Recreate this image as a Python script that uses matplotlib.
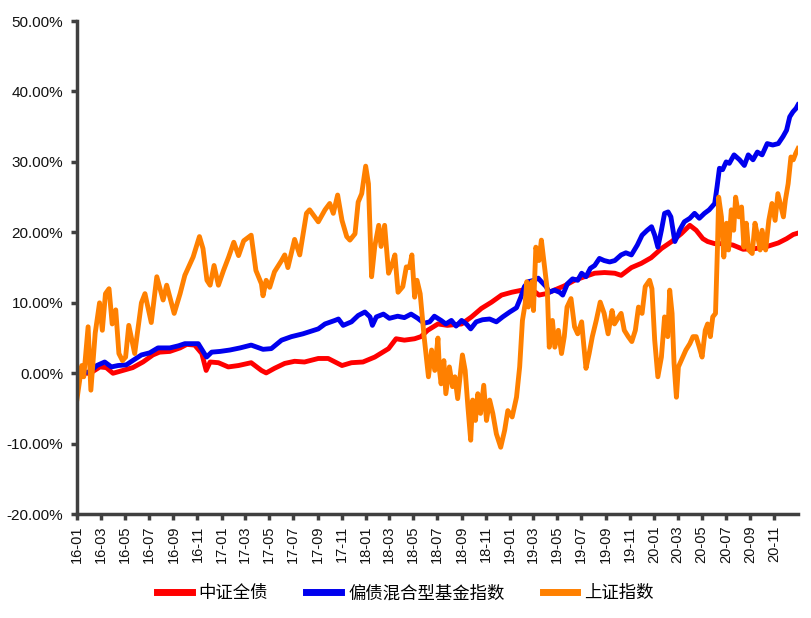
import matplotlib
matplotlib.use('Agg')
import matplotlib.pyplot as plt
import matplotlib.dates as mdates
import pandas as pd
from matplotlib.ticker import FuncFormatter, MultipleLocator

plt.rcParams['font.family'] = ['Liberation Sans', 'Noto Sans CJK SC', 'DejaVu Sans']

# === series names / colours ===
labels = ['中证全债', '偏债混合型基金指数', '上证指数']
colors = ['#ff0000', '#0000ee', '#ff8000']

# === cumulative return (%) ===
bond = [
    ('2016-01-01', 0.0), ('2016-02-03', 0.0), ('2016-02-28', 0.9), ('2016-03-15', 0.8),
    ('2016-04-01', 0.0), ('2016-04-26', 0.4), ('2016-05-21', 0.8), ('2016-06-16', 1.6),
    ('2016-07-11', 2.6), ('2016-07-28', 3.0), ('2016-08-23', 3.1), ('2016-09-18', 3.6),
    ('2016-10-05', 4.1), ('2016-10-25', 4.0), ('2016-11-12', 2.8), ('2016-11-23', 0.4),
    ('2016-12-03', 1.6), ('2016-12-24', 1.5), ('2017-01-18', 0.9), ('2017-02-13', 1.1),
    ('2017-03-17', 1.5), ('2017-04-12', 0.4), ('2017-04-24', 0.05), ('2017-05-15', 0.7),
    ('2017-06-10', 1.4), ('2017-07-05', 1.7), ('2017-07-30', 1.6), ('2017-09-03', 2.1),
    ('2017-09-28', 2.1), ('2017-11-02', 1.1), ('2017-11-26', 1.5), ('2017-12-25', 1.6),
    ('2018-01-24', 2.3), ('2018-02-28', 3.5), ('2018-03-19', 4.9), ('2018-04-09', 4.7),
    ('2018-05-05', 4.9), ('2018-05-21', 5.2), ('2018-06-07', 6.1), ('2018-07-03', 7.0),
    ('2018-07-27', 6.8), ('2018-09-01', 7.0), ('2018-09-26', 8.0), ('2018-10-21', 9.2),
    ('2018-11-16', 10.1), ('2018-12-11', 11.1), ('2019-01-06', 11.5), ('2019-02-01', 11.8),
    ('2019-02-26', 11.9), ('2019-03-16', 11.1), ('2019-04-03', 11.3), ('2019-05-02', 12.0),
    ('2019-05-19', 12.4), ('2019-06-14', 13.2), ('2019-07-09', 13.7), ('2019-08-04', 14.2),
    ('2019-08-29', 14.3), ('2019-09-24', 14.2), ('2019-10-10', 13.9), ('2019-11-05', 15.0),
    ('2019-11-30', 15.6), ('2019-12-25', 16.4), ('2020-01-20', 17.7), ('2020-02-15', 18.7),
    ('2020-03-10', 19.8), ('2020-04-01', 21.0), ('2020-04-17', 20.3), ('2020-05-04', 19.1),
    ('2020-05-16', 18.7), ('2020-06-03', 18.4), ('2020-06-28', 18.4), ('2020-07-19', 18.2),
    ('2020-08-14', 17.6), ('2020-09-13', 17.7), ('2020-10-08', 17.9), ('2020-11-11', 18.5),
    ('2020-12-02', 19.1), ('2020-12-19', 19.7), ('2020-12-31', 19.9),
]

hybrid = [
    ('2016-01-01', 0.0), ('2016-02-03', 0.2), ('2016-02-20', 1.1), ('2016-03-11', 1.6),
    ('2016-03-28', 0.9), ('2016-04-14', 1.1), ('2016-05-05', 1.2), ('2016-05-21', 1.8),
    ('2016-06-12', 2.6), ('2016-07-03', 2.9), ('2016-07-24', 3.6), ('2016-08-23', 3.6),
    ('2016-09-14', 3.9), ('2016-09-30', 4.2), ('2016-11-03', 4.2), ('2016-11-24', 2.3),
    ('2016-12-07', 3.0), ('2016-12-28', 3.1), ('2017-01-22', 3.3), ('2017-02-17', 3.6),
    ('2017-03-17', 4.0), ('2017-04-16', 3.4), ('2017-05-07', 3.5), ('2017-06-02', 4.7),
    ('2017-06-27', 5.2), ('2017-07-26', 5.6), ('2017-09-03', 6.3), ('2017-09-20', 7.0),
    ('2017-10-15', 7.5), ('2017-10-24', 7.7), ('2017-11-05', 6.8), ('2017-11-26', 7.3),
    ('2017-12-13', 8.2), ('2017-12-30', 8.7), ('2018-01-12', 8.0), ('2018-01-18', 6.8),
    ('2018-01-28', 8.0), ('2018-02-15', 8.4), ('2018-03-02', 7.8), ('2018-03-23', 8.1),
    ('2018-04-09', 7.9), ('2018-04-26', 8.4), ('2018-05-13', 7.8), ('2018-05-29', 7.1),
    ('2018-06-12', 7.3), ('2018-06-24', 8.1), ('2018-07-11', 7.5), ('2018-07-23', 7.0),
    ('2018-08-06', 7.5), ('2018-08-18', 6.7), ('2018-09-01', 7.5), ('2018-09-13', 7.0),
    ('2018-09-24', 6.3), ('2018-10-08', 7.3), ('2018-10-24', 7.6), ('2018-11-11', 7.7),
    ('2018-11-28', 7.3), ('2018-12-14', 8.0), ('2019-01-01', 8.7), ('2019-01-18', 9.3),
    ('2019-01-29', 10.8), ('2019-02-07', 12.3), ('2019-02-17', 13.0), ('2019-03-04', 13.2),
    ('2019-03-14', 13.5), ('2019-03-22', 13.0), ('2019-04-03', 12.3), ('2019-04-11', 11.5),
    ('2019-04-24', 11.8), ('2019-05-07', 11.5), ('2019-05-15', 11.1), ('2019-05-27', 12.7),
    ('2019-06-09', 13.4), ('2019-06-22', 13.2), ('2019-07-02', 14.2), ('2019-07-13', 13.7),
    ('2019-07-24', 14.9), ('2019-08-04', 15.3), ('2019-08-16', 16.3), ('2019-08-28', 16.0),
    ('2019-09-11', 15.8), ('2019-09-24', 16.0), ('2019-10-10', 16.8), ('2019-10-22', 17.1),
    ('2019-11-05', 16.8), ('2019-11-20', 18.2), ('2019-12-02', 19.6), ('2019-12-15', 20.3),
    ('2019-12-26', 20.8), ('2020-01-03', 19.6), ('2020-01-11', 17.9), ('2020-01-20', 20.3),
    ('2020-01-28', 22.7), ('2020-02-06', 22.9), ('2020-02-13', 22.2), ('2020-02-23', 18.7),
    ('2020-03-03', 19.8), ('2020-03-06', 20.3), ('2020-03-18', 21.5), ('2020-04-01', 22.0),
    ('2020-04-13', 22.7), ('2020-04-25', 22.0), ('2020-05-08', 22.7), ('2020-05-20', 23.2),
    ('2020-06-03', 24.1), ('2020-06-09', 26.5), ('2020-06-15', 29.1), ('2020-06-23', 28.9),
    ('2020-07-02', 30.0), ('2020-07-10', 29.8), ('2020-07-22', 31.0), ('2020-08-05', 30.3),
    ('2020-08-17', 29.5), ('2020-08-27', 31.0), ('2020-09-08', 30.3), ('2020-09-19', 31.4),
    ('2020-10-01', 31.0), ('2020-10-14', 32.6), ('2020-10-28', 32.4), ('2020-11-11', 32.6),
    ('2020-11-23', 33.6), ('2020-12-02', 34.5), ('2020-12-10', 36.4), ('2020-12-18', 37.1),
    ('2020-12-26', 37.6), ('2020-12-31', 38.1),
]

sse = [
    ('2016-01-01', -3.6), ('2016-01-13', 1.1), ('2016-01-18', -0.5), ('2016-01-29', 6.6),
    ('2016-02-05', -2.4), ('2016-02-16', 5.7), ('2016-02-27', 10.0), ('2016-03-05', 6.1),
    ('2016-03-13', 11.3), ('2016-03-22', 12.0), ('2016-03-30', 7.0), ('2016-04-08', 9.0),
    ('2016-04-16', 2.8), ('2016-04-25', 1.8), ('2016-05-03', 2.3), ('2016-05-11', 6.8),
    ('2016-05-26', 2.8), ('2016-06-12', 10.0), ('2016-06-21', 11.3), ('2016-07-07', 7.2),
    ('2016-07-21', 13.7), ('2016-08-06', 10.4), ('2016-08-15', 12.5), ('2016-09-03', 8.5),
    ('2016-09-18', 11.3), ('2016-09-30', 13.9), ('2016-10-21', 16.5), ('2016-11-06', 19.4),
    ('2016-11-15', 17.7), ('2016-11-25', 13.2), ('2016-12-03', 12.5), ('2016-12-13', 15.3),
    ('2016-12-24', 12.5), ('2017-01-06', 14.6), ('2017-01-19', 16.5), ('2017-02-01', 18.6),
    ('2017-02-13', 16.7), ('2017-02-26', 18.8), ('2017-03-17', 19.6), ('2017-03-29', 14.6),
    ('2017-04-12', 12.7), ('2017-04-16', 11.0), ('2017-04-24', 13.2), ('2017-05-03', 12.2),
    ('2017-05-15', 14.4), ('2017-06-02', 16.0), ('2017-06-10', 16.8), ('2017-06-18', 15.0),
    ('2017-07-05', 19.0), ('2017-07-18', 16.8), ('2017-08-04', 22.7), ('2017-08-12', 23.2),
    ('2017-09-03', 21.5), ('2017-09-20', 23.2), ('2017-10-02', 24.1), ('2017-10-11', 22.7),
    ('2017-10-22', 25.3), ('2017-11-02', 21.7), ('2017-11-14', 19.4), ('2017-11-22', 18.9),
    ('2017-12-05', 19.8), ('2017-12-13', 24.3), ('2017-12-22', 25.5), ('2018-01-01', 29.4),
    ('2018-01-08', 26.9), ('2018-01-16', 13.7), ('2018-01-24', 18.0), ('2018-02-03', 21.0),
    ('2018-02-09', 18.0), ('2018-02-18', 21.0), ('2018-02-28', 14.2), ('2018-03-08', 15.3),
    ('2018-03-16', 16.8), ('2018-03-24', 11.5), ('2018-04-05', 12.3), ('2018-04-14', 15.1),
    ('2018-04-22', 15.0), ('2018-04-28', 16.8), ('2018-05-05', 10.8), ('2018-05-11', 13.2),
    ('2018-05-19', 11.3), ('2018-05-29', 5.2), ('2018-06-09', -0.5), ('2018-06-17', 3.3),
    ('2018-06-25', 0.4), ('2018-07-03', 5.0), ('2018-07-07', 0.4), ('2018-07-11', -1.5),
    ('2018-07-18', 1.8), ('2018-07-23', -2.9), ('2018-08-01', 0.9), ('2018-08-09', -1.9),
    ('2018-08-15', -0.5), ('2018-08-22', -3.6), ('2018-09-03', 2.6), ('2018-09-10', 0.4),
    ('2018-09-17', -4.8), ('2018-09-24', -9.5), ('2018-09-29', -3.8), ('2018-10-06', -6.7),
    ('2018-10-12', -2.9), ('2018-10-19', -5.7), ('2018-10-27', -1.7), ('2018-11-03', -6.7),
    ('2018-11-11', -3.8), ('2018-11-19', -5.7), ('2018-11-28', -8.6), ('2018-12-09', -10.5),
    ('2018-12-19', -8.1), ('2018-12-27', -5.3), ('2019-01-07', -6.2), ('2019-01-18', -3.4),
    ('2019-01-26', 0.9), ('2019-02-02', 7.5), ('2019-02-09', 9.9), ('2019-02-13', 13.0),
    ('2019-02-17', 9.4), ('2019-02-26', 13.0), ('2019-03-02', 8.9), ('2019-03-08', 17.9),
    ('2019-03-16', 16.0), ('2019-03-22', 18.9), ('2019-03-29', 15.6), ('2019-04-06', 11.8),
    ('2019-04-11', 3.7), ('2019-04-19', 7.5), ('2019-04-25', 3.7), ('2019-05-04', 6.1),
    ('2019-05-12', 2.8), ('2019-05-19', 5.2), ('2019-05-26', 9.4), ('2019-06-05', 10.6),
    ('2019-06-14', 6.6), ('2019-06-22', 5.6), ('2019-07-02', 7.3), ('2019-07-07', 4.2),
    ('2019-07-13', 0.7), ('2019-07-21', 2.8), ('2019-07-29', 5.2), ('2019-08-08', 7.5),
    ('2019-08-18', 10.1), ('2019-08-28', 8.5), ('2019-09-07', 5.6), ('2019-09-17', 8.9),
    ('2019-09-23', 7.0), ('2019-10-04', 8.0), ('2019-10-10', 8.5), ('2019-10-18', 6.1),
    ('2019-10-28', 5.2), ('2019-11-06', 4.5), ('2019-11-15', 6.1), ('2019-11-23', 9.4),
    ('2019-12-02', 8.5), ('2019-12-10', 12.3), ('2019-12-21', 13.2), ('2019-12-27', 12.0),
    ('2020-01-03', 4.7), ('2020-01-11', -0.5), ('2020-01-20', 2.3), ('2020-01-28', 8.0),
    ('2020-02-05', 5.2), ('2020-02-10', 11.8), ('2020-02-16', 8.5), ('2020-02-21', 1.4),
    ('2020-02-27', -3.4), ('2020-03-03', 0.9), ('2020-03-14', 2.3), ('2020-03-22', 3.3),
    ('2020-04-01', 4.2), ('2020-04-09', 5.2), ('2020-04-17', 5.2), ('2020-04-25', 3.7),
    ('2020-05-02', 2.3), ('2020-05-10', 6.1), ('2020-05-16', 7.0), ('2020-05-23', 5.2),
    ('2020-05-29', 8.0), ('2020-06-05', 8.5), ('2020-06-10', 17.9), ('2020-06-13', 25.0),
    ('2020-06-20', 22.2), ('2020-06-26', 16.5), ('2020-07-03', 21.3), ('2020-07-08', 17.5),
    ('2020-07-15', 23.2), ('2020-07-21', 20.3), ('2020-07-26', 25.0), ('2020-08-03', 22.2),
    ('2020-08-10', 23.6), ('2020-08-16', 17.9), ('2020-08-22', 21.3), ('2020-08-28', 17.5),
    ('2020-09-06', 17.0), ('2020-09-13', 21.3), ('2020-09-20', 19.4), ('2020-09-26', 17.5),
    ('2020-10-01', 20.3), ('2020-10-10', 17.5), ('2020-10-18', 21.7), ('2020-10-26', 24.1),
    ('2020-11-03', 21.7), ('2020-11-10', 25.5), ('2020-11-18', 23.6), ('2020-11-24', 22.2),
    ('2020-11-29', 24.6), ('2020-12-06', 26.9), ('2020-12-13', 30.7), ('2020-12-19', 30.3),
    ('2020-12-25', 31.2), ('2020-12-31', 31.9),
]

axis_col = '#404040'

fig = plt.figure(figsize=(8.11, 6.18), dpi=100)
ax = fig.add_axes([0.095, 0.168, 0.889, 0.798])

for pts, color, label in zip([bond, hybrid, sse], colors, labels):
    d = pd.to_datetime([p[0] for p in pts])
    v = [p[1] for p in pts]
    ax.plot(d, v, color=color, lw=3.5, label=label, solid_joinstyle='round')

ax.set_xlim(pd.Timestamp('2016-01-01'), pd.Timestamp('2020-12-31'))
ax.set_ylim(-20, 50)
ax.yaxis.set_major_locator(MultipleLocator(10))
ax.yaxis.set_major_formatter(FuncFormatter(lambda v, p: f'{v:.2f}%'))
ax.xaxis.set_major_locator(mdates.MonthLocator(bymonth=[1, 3, 5, 7, 9, 11]))
ax.xaxis.set_major_formatter(mdates.DateFormatter('%y-%m'))

for s in ['top', 'right']:
    ax.spines[s].set_visible(False)
for s in ['left', 'bottom']:
    ax.spines[s].set_color(axis_col)
    ax.spines[s].set_linewidth(2.5)
ax.tick_params(axis='both', direction='out', length=4, width=2.5, color=axis_col,
               labelcolor='#111111')
ax.tick_params(axis='y', labelsize=11, pad=6)
ax.tick_params(axis='x', labelsize=10.5, labelrotation=90, pad=4)

leg = fig.legend(loc='center', bbox_to_anchor=(0.5, 0.04), ncol=3, frameon=False,
                 handlelength=2.0, columnspacing=2.2, handletextpad=0.4,
                 prop={'family': ['Noto Sans CJK SC', 'DejaVu Sans'], 'size': 12.5})
for h in leg.get_lines():
    h.set_linewidth(5)

fig.savefig('out.png', dpi=100)
